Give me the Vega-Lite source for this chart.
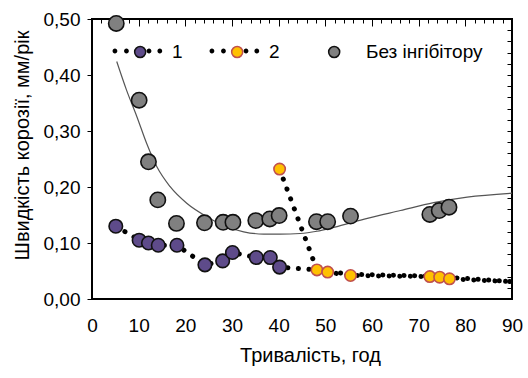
{
  "$schema": "https://vega.github.io/schema/vega-lite/v6.json",
  "width": 420,
  "height": 280,
  "autosize": {"type": "none"},
  "padding": {"left": 92, "top": 19, "right": 16, "bottom": 79},
  "background": "white",
  "config": {
    "view": {"stroke": "black", "strokeWidth": 2},
    "font": "Liberation Sans",
    "axis": {"labelFont": "Liberation Sans", "titleFont": "Liberation Sans", "labelColor": "black", "titleColor": "black", "tickColor": "black", "domainColor": "black", "grid": false, "titleFontWeight": "normal"},
    "legend": {"labelFont": "Liberation Sans", "labelColor": "black", "orient": "none", "legendX": 21.5, "legendY": 8, "direction": "horizontal", "title": null, "symbolSize": 2304, "labelFontSize": 19, "labelOffset": 8.5, "columnPadding": 27}
  },
  "datasets": {
    "obs": [
      {"s": "Без інгібітору", "t": 5.2, "v": 0.492},
      {"s": "Без інгібітору", "t": 10.1, "v": 0.355},
      {"s": "Без інгібітору", "t": 12.1, "v": 0.245},
      {"s": "Без інгібітору", "t": 14.1, "v": 0.177},
      {"s": "Без інгібітору", "t": 18.1, "v": 0.135},
      {"s": "Без інгібітору", "t": 24.1, "v": 0.136},
      {"s": "Без інгібітору", "t": 28.1, "v": 0.137},
      {"s": "Без інгібітору", "t": 30.2, "v": 0.137},
      {"s": "Без інгібітору", "t": 35.1, "v": 0.14},
      {"s": "Без інгібітору", "t": 38.1, "v": 0.143},
      {"s": "Без інгібітору", "t": 40.1, "v": 0.149},
      {"s": "Без інгібітору", "t": 48.1, "v": 0.138},
      {"s": "Без інгібітору", "t": 50.5, "v": 0.138},
      {"s": "Без інгібітору", "t": 55.4, "v": 0.148},
      {"s": "Без інгібітору", "t": 72.4, "v": 0.151},
      {"s": "Без інгібітору", "t": 74.4, "v": 0.158},
      {"s": "Без інгібітору", "t": 76.5, "v": 0.164},
      {"s": "1", "t": 5.1, "v": 0.13},
      {"s": "1", "t": 10.1, "v": 0.105},
      {"s": "1", "t": 12.1, "v": 0.1},
      {"s": "1", "t": 14.2, "v": 0.096},
      {"s": "1", "t": 18.2, "v": 0.096},
      {"s": "1", "t": 24.2, "v": 0.061},
      {"s": "1", "t": 28.0, "v": 0.068},
      {"s": "1", "t": 30.1, "v": 0.083},
      {"s": "1", "t": 35.2, "v": 0.074},
      {"s": "1", "t": 38.2, "v": 0.074},
      {"s": "1", "t": 40.2, "v": 0.057},
      {"s": "2", "t": 40.2, "v": 0.232},
      {"s": "2", "t": 48.2, "v": 0.052},
      {"s": "2", "t": 50.5, "v": 0.048},
      {"s": "2", "t": 55.4, "v": 0.042},
      {"s": "2", "t": 72.4, "v": 0.04},
      {"s": "2", "t": 74.5, "v": 0.039},
      {"s": "2", "t": 76.6, "v": 0.036}
    ],
    "dots": [
      {"s": "1", "t": 5.1, "v": 0.13},
      {"s": "1", "t": 10.1, "v": 0.105},
      {"s": "1", "t": 12.1, "v": 0.1},
      {"s": "1", "t": 14.2, "v": 0.096},
      {"s": "1", "t": 18.2, "v": 0.096},
      {"s": "1", "t": 24.2, "v": 0.061},
      {"s": "1", "t": 28.0, "v": 0.068},
      {"s": "1", "t": 30.1, "v": 0.083},
      {"s": "1", "t": 35.2, "v": 0.074},
      {"s": "1", "t": 38.2, "v": 0.074},
      {"s": "1", "t": 40.2, "v": 0.057},
      {"s": "1", "t": 48.2, "v": 0.052},
      {"s": "1", "t": 55.4, "v": 0.044},
      {"s": "1", "t": 72.4, "v": 0.041},
      {"s": "1", "t": 90, "v": 0.031},
      {"s": "2", "t": 40.2, "v": 0.232},
      {"s": "2", "t": 48.2, "v": 0.052},
      {"s": "2", "t": 50.5, "v": 0.048},
      {"s": "2", "t": 55.4, "v": 0.042},
      {"s": "2", "t": 72.4, "v": 0.04},
      {"s": "2", "t": 74.5, "v": 0.039},
      {"s": "2", "t": 76.6, "v": 0.036},
      {"s": "2", "t": 90, "v": 0.031}
    ],
    "fit": [
      {"t": 5.3, "v": 0.424},
      {"t": 7.4, "v": 0.373},
      {"t": 9.6, "v": 0.326},
      {"t": 11.7, "v": 0.278},
      {"t": 13.9, "v": 0.236},
      {"t": 16.7, "v": 0.201},
      {"t": 20.3, "v": 0.171},
      {"t": 24.6, "v": 0.147},
      {"t": 28.9, "v": 0.129},
      {"t": 32.5, "v": 0.12},
      {"t": 36.8, "v": 0.116},
      {"t": 40.3, "v": 0.116},
      {"t": 44.6, "v": 0.117},
      {"t": 48.2, "v": 0.121},
      {"t": 51.8, "v": 0.128},
      {"t": 59, "v": 0.144},
      {"t": 66.1, "v": 0.158},
      {"t": 73.2, "v": 0.172},
      {"t": 80.4, "v": 0.182},
      {"t": 90, "v": 0.189}
    ]
  },
  "resolve": {"axis": {"x": "independent", "y": "independent"}},
  "layer": [
    {
      "data": {"name": "fit"},
      "mark": {"type": "line", "color": "#555555", "strokeWidth": 1.2, "interpolate": "monotone"},
      "encoding": {
        "x": {"field": "t", "type": "quantitative", "scale": {"domain": [0, 90], "nice": false},
          "axis": {"title": "Тривалість, год", "values": [0, 10, 20, 30, 40, 50, 60, 70, 80, 90], "labelFontSize": 19, "labelPadding": 17, "ticks": false, "domain": false, "labelFlush": false,
            "titleFontSize": 20, "titleX": 218, "titleY": 56, "titleBaseline": "middle", "titleAnchor": null}},
        "y": {"field": "v", "type": "quantitative", "scale": {"domain": [0, 0.5], "nice": false},
          "axis": {"title": "Швидкість корозії, мм/рік", "values": [0, 0.1, 0.2, 0.3, 0.4, 0.5], "labelExpr": "replace(format(datum.value, '.2f'), '.', ',')", "labelFontSize": 19, "tickSize": 5, "labelPadding": 7, "domain": false, "labelFlush": false,
            "titleFontSize": 20, "titleX": -70, "titleY": 126, "titleAngle": -90, "titleBaseline": "middle", "titleAlign": "center"}}
      }
    },
    {
      "data": {"name": "dots"},
      "mark": {"type": "line", "color": "black", "strokeWidth": 5, "strokeCap": "round"},
      "encoding": {
        "x": {"field": "t", "type": "quantitative",
          "axis": {"title": null, "values": [0,2,4,6,8,10,12,14,16,18,20,22,24,26,28,30,32,34,36,38,40,42,44,46,48,50,52,54,56,58,60,62,64,66,68,70,72,74,76,78,80,82,84,86,88,90], "labels": false, "domain": false, "tickSize": -4}},
        "y": {"field": "v", "type": "quantitative",
          "axis": {"title": null, "values": [0,0.02,0.04,0.06,0.08,0.1,0.12,0.14,0.16,0.18,0.2,0.22,0.24,0.26,0.28,0.3,0.32,0.34,0.36,0.38,0.4,0.42,0.44,0.46,0.48,0.5], "labels": false, "domain": false, "tickSize": -5}},
        "strokeDash": {"field": "s", "type": "nominal",
          "scale": {"domain": ["1", "2"], "range": [[0.1, 10.5], [0.1, 10.5]]},
          "legend": {"symbolType": "M -1.04 0 A 0.1 0.1 0 1 1 -0.84 0 A 0.1 0.1 0 1 1 -1.04 0 Z M -0.56 0 A 0.1 0.1 0 1 1 -0.36 0 A 0.1 0.1 0 1 1 -0.56 0 Z M 0.38 0 A 0.1 0.1 0 1 1 0.58 0 A 0.1 0.1 0 1 1 0.38 0 Z M 0.83 0 A 0.1 0.1 0 1 1 1.03 0 A 0.1 0.1 0 1 1 0.83 0 Z",
            "symbolFillColor": "black", "symbolStrokeColor": "transparent", "symbolStrokeWidth": 0, "symbolDash": [],
            "labelExpr": "''", "columnPadding": 39}}
      }
    },
    {
      "data": {"name": "obs"},
      "mark": {"type": "point", "filled": true, "opacity": 1, "strokeWidth": 1.6},
      "encoding": {
        "x": {"field": "t", "type": "quantitative",
          "axis": {"title": null, "values": [0, 10, 20, 30, 40, 50, 60, 70, 80, 90], "labels": false, "domain": false, "tickSize": -7}},
        "y": {"field": "v", "type": "quantitative", "axis": null},
        "fill": {"field": "s", "type": "nominal",
          "scale": {"domain": ["1", "2", "Без інгібітору"], "range": ["#5E4B8A", "#FFC000", "#808080"]},
          "legend": {"symbolType": "M -0.16 0 A 0.23 0.23 0 1 1 0.3 0 A 0.23 0.23 0 1 1 -0.16 0 Z", "symbolStrokeWidth": 1.5}},
        "stroke": {"field": "s", "type": "nominal",
          "scale": {"domain": ["1", "2", "Без інгібітору"], "range": ["#111111", "#C0504D", "#111111"]},
          "legend": {"symbolType": "M -0.16 0 A 0.23 0.23 0 1 1 0.3 0 A 0.23 0.23 0 1 1 -0.16 0 Z", "symbolStrokeWidth": 1.5}},
        "size": {"field": "s", "type": "nominal",
          "scale": {"domain": ["Без інгібітору", "1", "2"], "range": [235, 130, 120]}, "legend": null}
      }
    }
  ]
}
